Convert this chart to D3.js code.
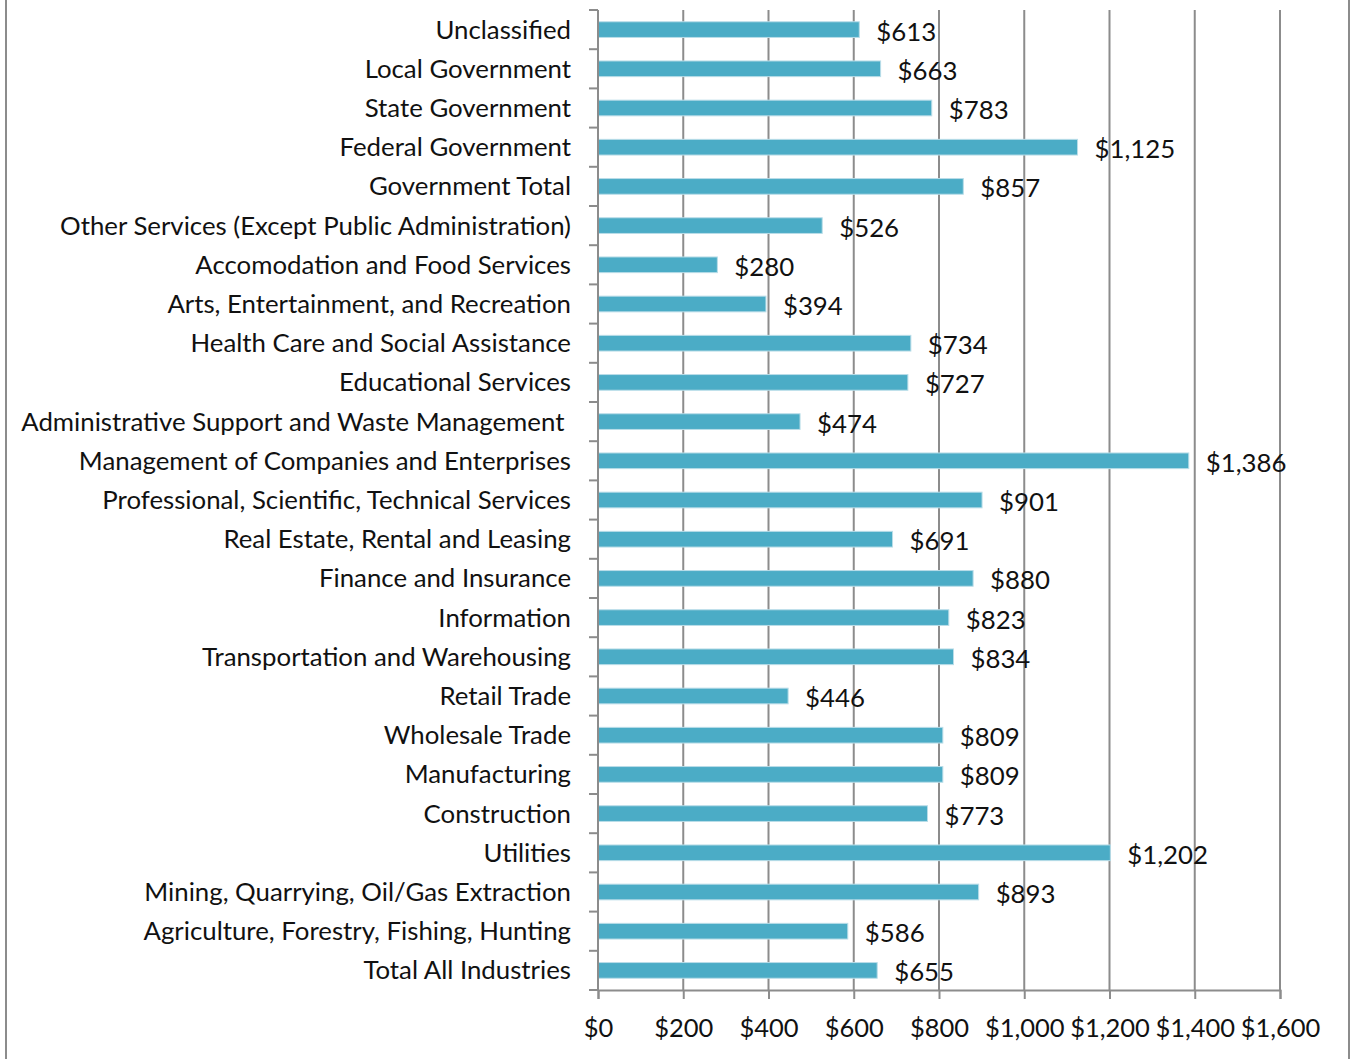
<!DOCTYPE html>
<html>
<head>
<meta charset="utf-8">
<script src="https://cdn.jsdelivr.net/npm/d3@7"></script>
<style>
  body { margin: 0; background: #fff; }
  svg text { font-family: "Lato", sans-serif; fill: #111; }
</style>
</head>
<body>
<script>
// categories top to bottom, weekly wage
var categories = [
  "Unclassified", "Local Government", "State Government", "Federal Government",
  "Government Total", "Other Services (Except Public Administration)",
  "Accomodation and Food Services", "Arts, Entertainment, and Recreation",
  "Health Care and Social Assistance", "Educational Services",
  "Administrative Support and Waste Management ", "Management of Companies and Enterprises",
  "Professional, Scientific, Technical Services", "Real Estate, Rental and Leasing",
  "Finance and Insurance", "Information", "Transportation and Warehousing",
  "Retail Trade", "Wholesale Trade", "Manufacturing", "Construction", "Utilities",
  "Mining, Quarrying, Oil/Gas Extraction", "Agriculture, Forestry, Fishing, Hunting",
  "Total All Industries"
];
var values = [613, 663, 783, 1125, 857, 526, 280, 394, 734, 727, 474, 1386, 901,
  691, 880, 823, 834, 446, 809, 809, 773, 1202, 893, 586, 655];
var xTicks = [0, 200, 400, 600, 800, 1000, 1200, 1400, 1600];

var W = 1356, H = 1059;
var margin = {top: 10, left: 598, right: 76, bottom: 69};
var width = W - margin.left - margin.right;
var height = H - margin.top - margin.bottom;

var root = d3.select("body").append("svg")
  .attr("width", W)
  .attr("height", H);

// outer frame lines (left / right)
root.append("line").attr("x1", 6).attr("x2", 6).attr("y1", 0).attr("y2", H)
  .attr("stroke", "#8c8c8c").attr("stroke-width", 2);
root.append("line").attr("x1", 1349).attr("x2", 1349).attr("y1", 0).attr("y2", H)
  .attr("stroke", "#8c8c8c").attr("stroke-width", 2);

var svg = root.append("g")
  .attr("transform", "translate(" + margin.left + "," + margin.top + ")");

var x = d3.scaleLinear().domain([0, 1600]).range([0, width]);
var y = d3.scaleBand().domain(categories).range([0, height]);

// gridlines
svg.selectAll(".grid")
  .data(xTicks.slice(1))
  .enter().append("line")
  .attr("class", "grid")
  .attr("x1", function(d) { return x(d); })
  .attr("x2", function(d) { return x(d); })
  .attr("y1", 0)
  .attr("y2", height)
  .attr("stroke", "#8c8c8c")
  .attr("stroke-width", 2);

// bars
svg.selectAll(".bar")
  .data(values)
  .enter().append("rect")
  .attr("class", "bar")
  .attr("x", x(0))
  .attr("y", function(d, i) { return y(categories[i]) + y.bandwidth() * 0.3; })
  .attr("width", function(d) { return x(d) - x(0); })
  .attr("height", y.bandwidth() * 0.4)
  .attr("fill", "#4bacc6")
  .attr("stroke", "#b9dde8")
  .attr("stroke-width", 1);

// value labels
svg.selectAll(".val")
  .data(values)
  .enter().append("text")
  .attr("class", "val")
  .attr("x", function(d) { return x(d) + 17; })
  .attr("y", function(d, i) { return y(categories[i]) + y.bandwidth() / 2 + 2; })
  .attr("dy", "0.35em")
  .style("font-size", "25.8px")
  .text(function(d) { return "$" + d3.format(",")(d); });

// x axis
var xAxis = svg.append("g")
  .attr("transform", "translate(0," + height + ")")
  .call(d3.axisBottom(x).tickValues(xTicks).tickSize(9).tickPadding(20)
    .tickFormat(function(d) { return "$" + d3.format(",")(d); }));
xAxis.select(".domain").attr("stroke", "#8c8c8c").attr("stroke-width", 2);
xAxis.selectAll(".tick line").attr("stroke", "#8c8c8c").attr("stroke-width", 2);
xAxis.selectAll(".tick text").style("font-size", "25.5px");

// y axis (ticks between categories)
var yAxis = svg.append("g");
yAxis.append("line")
  .attr("x1", 0).attr("x2", 0).attr("y1", 0).attr("y2", height)
  .attr("stroke", "#8c8c8c").attr("stroke-width", 2);
yAxis.selectAll(".ytick")
  .data(d3.range(categories.length + 1))
  .enter().append("line")
  .attr("class", "ytick")
  .attr("x1", -9).attr("x2", 0)
  .attr("y1", function(i) { return i * y.step(); })
  .attr("y2", function(i) { return i * y.step(); })
  .attr("stroke", "#8c8c8c").attr("stroke-width", 2);
yAxis.selectAll(".ylab")
  .data(categories)
  .enter().append("text")
  .attr("class", "ylab")
  .attr("x", -27)
  .attr("y", function(d) { return y(d) + y.bandwidth() / 2; })
  .attr("dy", "0.35em")
  .style("text-anchor", "end")
  .style("font-size", "25.8px")
  .text(function(d) { return d; })
  .attr("xml:space", "preserve");
</script>
</body>
</html>
